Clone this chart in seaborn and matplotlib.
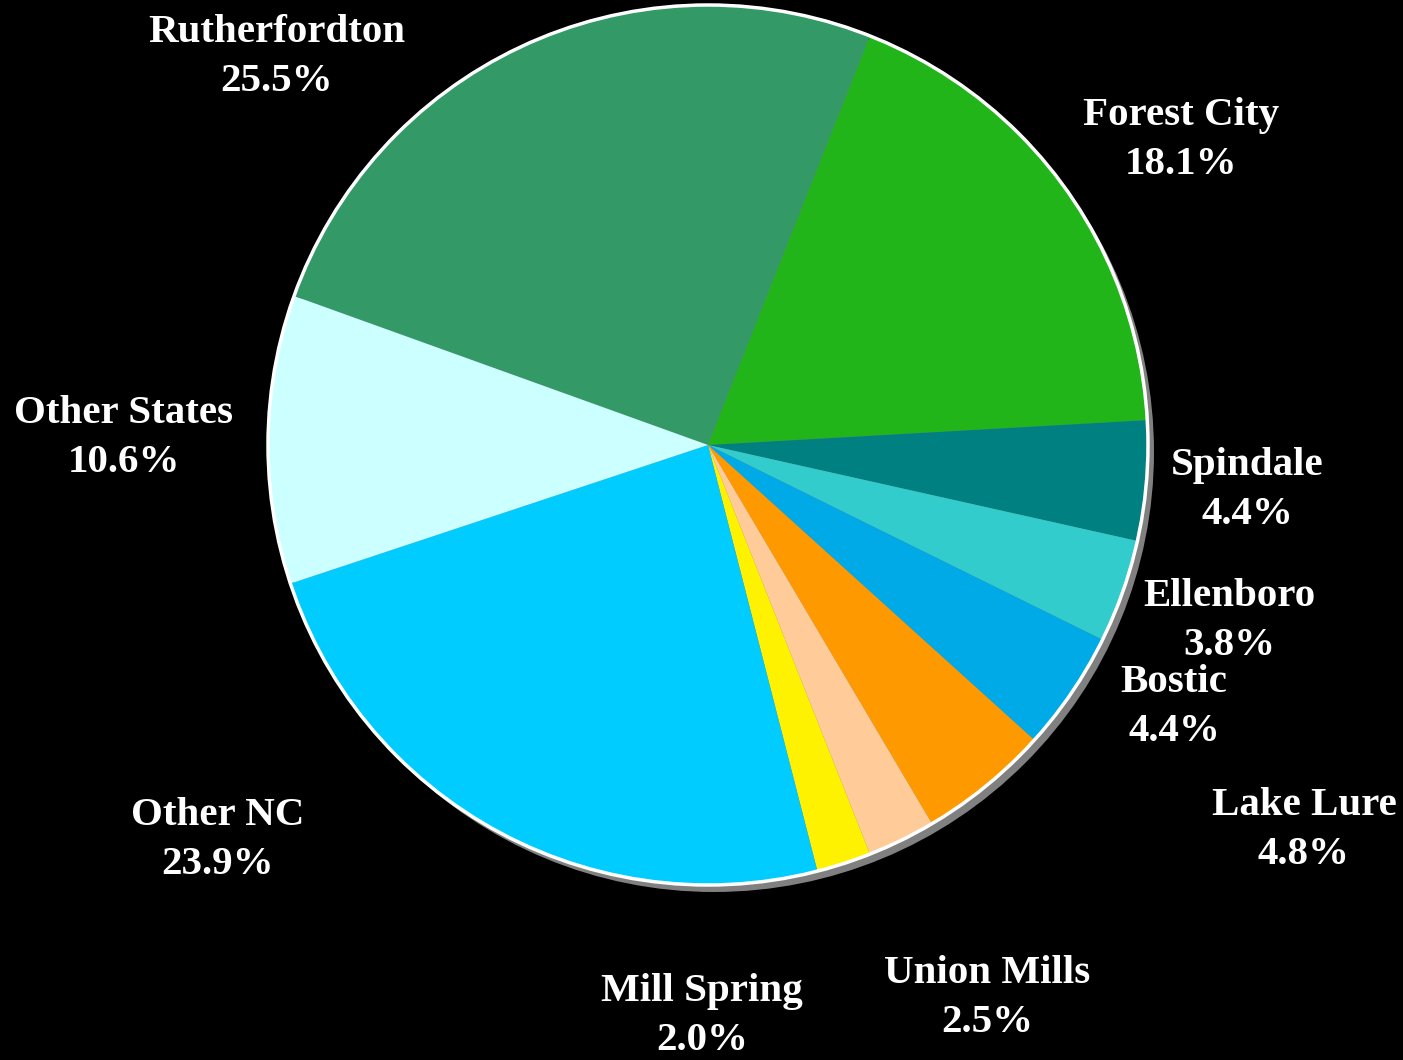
import matplotlib
matplotlib.use("Agg")
import matplotlib.pyplot as plt
from matplotlib.patches import Circle
import seaborn as sns

# Share of residents by place
places = ["Rutherfordton", "Forest City", "Spindale", "Ellenboro", "Bostic",
          "Lake Lure", "Union Mills", "Mill Spring", "Other NC", "Other States"]
shares = [25.5, 18.1, 4.4, 3.8, 4.4, 4.8, 2.5, 2.0, 23.9, 10.6]
colors = ["#339966", "#21B519", "#008080", "#33CCCC", "#00AAE6",
          "#FF9900", "#FFCC99", "#FFF200", "#00CCFF", "#CCFFFF"]

# label centres in pixels (x, y from top-left)
label_px = [(277, 57), (1181, 140), (1247, 490), (1229, 621), (1174, 707),
            (1304, 830), (987, 998), (702, 1016), (218, 840), (124, 438)]

sns.set_style("dark", {"axes.facecolor": "black", "figure.facecolor": "black"})
plt.rcParams["font.family"] = ["Liberation Serif", "DejaVu Serif"]

W, H, DPI = 1403, 1060, 100
CX, CY, R = 708, 445, 440

fig = plt.figure(figsize=(W / DPI, H / DPI), dpi=DPI, facecolor="black")
ax = fig.add_axes([0, 0, 1, 1])
ax.set_facecolor("black")

# drop shadow behind the pie
ax.add_patch(Circle((6 / R, -7 / R), 1.0, facecolor="#808080",
                    edgecolor="none", zorder=0))

ax.pie(shares, colors=colors, startangle=160.2, counterclock=False,
       radius=1.0, center=(0, 0),
       wedgeprops=dict(linewidth=0, edgecolor="none", zorder=1))

# white rim around the pie
ax.add_patch(Circle((0, 0), 1.0, facecolor="none", edgecolor="white",
                    linewidth=2.5, zorder=2))

for name, v, (px, py) in zip(places, shares, label_px):
    ax.text((px - CX) / R, (CY - py) / R, f"{name}\n{v:.1f}%",
            ha="center", va="center", color="white", fontsize=29.5,
            fontweight="bold", linespacing=1.45, zorder=3)

ax.set_xlim(-CX / R, (W - CX) / R)
ax.set_ylim(-(H - CY) / R, CY / R)
ax.set_aspect("auto")
ax.axis("off")

fig.savefig("out.png", dpi=DPI, facecolor="black")
